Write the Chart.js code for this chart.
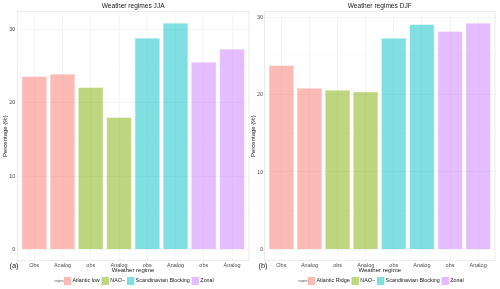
<!DOCTYPE html>
<html><head><meta charset="utf-8">
<script src="https://cdn.jsdelivr.net/npm/chart.js@4/dist/chart.umd.min.js"></script>
<style>
html,body{margin:0;padding:0;background:#fff;overflow:hidden;width:500px;height:289px}
.w{position:absolute;top:0;width:250px;height:289px}
canvas{display:block}
</style></head><body>
<div class="w" style="left:0"><canvas id="c1" width="250" height="289"></canvas></div>
<div class="w" style="left:250px"><canvas id="c2" width="250" height="289"></canvas></div>
<script>
// ---- data ----
const xLabels = ['Obs','Analog','obs','Analog','obs','Analog','obs','Analog'];
const yTickLabels = [0, 10, 20, 30];
const yMinorTicks = [5, 15, 25];

const regimesJJA = ['Atlantic low', 'NAO\u2212', 'Scandinavian Blocking', 'Zonal'];
const jjaObs    = [23.6, 22.1, 28.8, 25.55];
const jjaAnalog = [23.9, 18.0, 30.85, 27.3];

const regimesDJF = ['Atlantic Ridge', 'NAO\u2212', 'Scandinavian Blocking', 'Zonal'];
const djfObs    = [23.8, 20.6, 27.3, 28.2];
const djfAnalog = [20.85, 20.4, 29.1, 29.25];

const palette = ['248,118,109', '124,174,0', '0,191,196', '199,124,255'];

const FAM = '"Liberation Sans", Arial, sans-serif';

function buildDatasets(names, obs, analog) {
  return names.map((n, i) => ({
    label: n,
    data: [{x: 2*i, y: obs[i]}, {x: 2*i+1, y: analog[i]}],
    backgroundColor: 'rgba(' + palette[i] + ',0.5)',
    borderColor: 'rgba(' + palette[i] + ',0.25)',
    borderWidth: 0.8,
    grouped: false,
    categoryPercentage: 1,
    barPercentage: 0.9
  }));
}

const decor = {
  id: 'decor',
  afterDraw(chart, args, o) {
    const ctx = chart.ctx, a = chart.chartArea;
    ctx.save();
    ctx.strokeStyle = '#e3e3e3';
    ctx.lineWidth = 0.7;
    ctx.strokeRect(a.left, a.top, a.right - a.left, a.bottom - a.top);
    ctx.fillStyle = '#1a1a1a';
    ctx.font = '6.6px ' + FAM;
    ctx.textAlign = 'center';
    ctx.textBaseline = 'middle';
    ctx.fillText(o.title, (a.left + a.right) / 2, 6);
    ctx.font = '7.5px ' + FAM;
    ctx.fillText(o.tag, o.tagX, 266);
    const y = 281;
    let x = o.legendX;
    ctx.textAlign = 'left';
    ctx.font = '3px ' + FAM;
    ctx.fillStyle = '#555';
    ctx.fillText('regime', x - 9.5, y);
    ctx.font = '5.4px ' + FAM;
    chart.data.datasets.forEach(ds => {
      ctx.fillStyle = ds.backgroundColor;
      ctx.fillRect(x, y - 3.8, 7, 7.6);
      ctx.strokeStyle = ds.borderColor;
      ctx.lineWidth = 0.6;
      ctx.strokeRect(x, y - 3.8, 7, 7.6);
      x += 8.5;
      ctx.fillStyle = '#1a1a1a';
      ctx.fillText(ds.label, x, y);
      x += ctx.measureText(ds.label).width + 2;
    });
    ctx.restore();
  }
};

function makeChart(id, names, obs, analog, o) {
  const all = obs.concat(analog);
  const ymax = Math.max.apply(null, all);
  return new Chart(document.getElementById(id), {
    type: 'bar',
    data: { datasets: buildDatasets(names, obs, analog) },
    plugins: [decor],
    options: {
      responsive: false,
      devicePixelRatio: 1,
      animation: false,
      layout: { autoPadding: false, padding: { left: 0, right: o.padRight, top: 11.7, bottom: 15 } },
      plugins: { legend: { display: false }, tooltip: { enabled: false }, decor: o },
      scales: {
        x: {
          type: 'linear',
          offset: false,
          min: -0.6,
          max: xLabels.length - 1 + 0.6,
          afterBuildTicks: s => { s.ticks = xLabels.map((_, i) => ({ value: i })); },
          afterFit: s => { s.height = 13.3; s.paddingLeft = 0; s.paddingRight = 0; },
          ticks: {
            callback: v => xLabels[v],
            font: { size: 5.5, family: FAM },
            color: '#4d4d4d',
            padding: 1.8,
            autoSkip: false,
            maxRotation: 0
          },
          grid: { offset: false, color: '#efefef', lineWidth: 0.6, drawTicks: false },
          border: { display: false },
          title: {
            display: true, text: 'Weather regime',
            font: { size: 6, family: FAM }, color: '#1a1a1a',
            padding: { top: 0, bottom: 0.4 }
          }
        },
        y: {
          min: -0.05 * ymax,
          max: 1.05 * ymax,
          afterBuildTicks: s => {
            s.ticks = yTickLabels.concat(yMinorTicks).sort((a, b) => a - b).map(v => ({ value: v }));
          },
          afterFit: s => { s.width = o.yWidth; s.paddingTop = 0; s.paddingBottom = 0; },
          ticks: {
            callback: v => (yTickLabels.indexOf(v) >= 0 ? String(v) : ''),
            font: { size: 5.5, family: FAM },
            color: '#4d4d4d',
            padding: o.tickPad
          },
          grid: {
            color: c => (c.tick && yTickLabels.indexOf(c.tick.value) >= 0 ? '#efefef' : '#f6f6f6'),
            lineWidth: c => (c.tick && yTickLabels.indexOf(c.tick.value) >= 0 ? 0.6 : 0.4),
            drawTicks: false
          },
          border: { display: false },
          title: {
            display: true, text: 'Percentage (%)',
            font: { size: 6, family: FAM }, color: '#1a1a1a',
            padding: { top: o.titlePad, bottom: 0 }
          }
        }
      }
    }
  });
}

makeChart('c1', regimesJJA, jjaObs, jjaAnalog,
  { title: 'Weather regimes JJA', tag: '(a)', tagX: 14, legendX: 64,
    padRight: 1, yWidth: 17.3, tickPad: 2, titlePad: 1.4 });
makeChart('c2', regimesDJF, djfObs, djfAnalog,
  { title: 'Weather regimes DJF', tag: '(b)', tagX: 13, legendX: 58,
    padRight: 5, yWidth: 14.5, tickPad: 1.5, titlePad: 0 });
</script>
</body></html>
